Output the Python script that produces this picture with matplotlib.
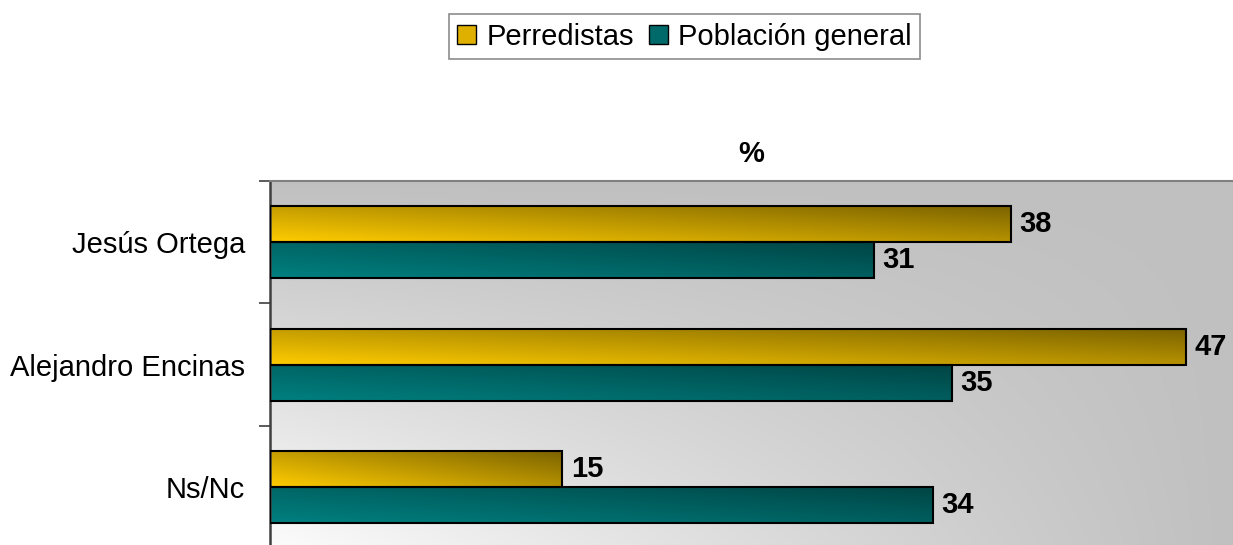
import numpy as np
import matplotlib
matplotlib.use('Agg')
import matplotlib.pyplot as plt
from matplotlib.patches import Patch
from matplotlib.colors import to_rgb

plt.rcParams['font.family'] = ['Liberation Sans', 'DejaVu Sans']

# Data
categories = ['Jesús Ortega', 'Alejandro Encinas', 'Ns/Nc']
perredistas = [38, 47, 15]
poblacion = [31, 35, 34]
series_names = ['Perredistas', 'Población general']

# gradient ends (light, dark) for each series
gold = ('#ffcc00', '#7a6200')
teal = ('#008080', '#004444')

fig = plt.figure(figsize=(12.33, 5.45), dpi=100)
ax = fig.add_axes([0.219, -0.0064, 0.781, 0.6743])

n = len(categories)
pos = np.arange(n)[::-1]  # first category on top
h = 0.294
fs = 21

# background: light in the bottom-left corner, gray towards top and right
gx, gy = np.meshgrid(np.linspace(0, 1, 300), np.linspace(0, 1, 200))
u = ((1 - gx) * (1 - gy)) ** 1.05
bg = (192 + 60 * u) / 255.0
ax.imshow(np.dstack([bg, bg, bg]), extent=[0, 1, 0, 1], transform=ax.transAxes,
          origin='lower', aspect='auto', zorder=0, interpolation='bilinear')

bars1 = ax.barh(pos + h / 2, perredistas, height=h, facecolor='none',
                edgecolor='black', linewidth=1.5, zorder=3)
bars2 = ax.barh(pos - h / 2, poblacion, height=h, facecolor='none',
                edgecolor='black', linewidth=1.5, zorder=3)

ax.set_xlim(0, 49.4)
ax.set_ylim(-0.5, n - 0.5)


def fill_gradient(bar, cols):
    x0, y0 = bar.get_x(), bar.get_y()
    w, hh = bar.get_width(), bar.get_height()
    xx, yy = np.meshgrid(np.linspace(0, 1, 200), np.linspace(0, 1, 40))
    t = (0.55 * xx + 0.45 * yy)[..., None]
    c0 = np.array(to_rgb(cols[0]))
    c1 = np.array(to_rgb(cols[1]))
    img = c0 * (1 - t) + c1 * t
    im = ax.imshow(img, extent=[x0, x0 + w, y0, y0 + hh], origin='lower',
                   aspect='auto', zorder=2, interpolation='bilinear')
    im.set_clip_path(bar)


for b in bars1:
    fill_gradient(b, gold)
for b in bars2:
    fill_gradient(b, teal)

# value labels
for bars, vals in ((bars1, perredistas), (bars2, poblacion)):
    for b, v in zip(bars, vals):
        ax.annotate(str(v), (b.get_width(), b.get_y() + b.get_height() / 2),
                    xytext=(6, 0), textcoords='offset points', ha='left',
                    va='center', fontsize=fs, fontweight='bold', zorder=4)

# ticks between categories, labels at centers
ax.set_yticks(np.arange(n + 1) - 0.5)
ax.set_yticklabels([])
ax.set_yticks(pos, minor=True)
ax.set_yticklabels(categories, minor=True, fontsize=fs)
ax.tick_params(axis='y', which='major', length=8, direction='out',
               color='#404040', width=1.2)
ax.tick_params(axis='y', which='minor', length=0, pad=18)
ax.set_xticks([])

for s in ('right', 'bottom'):
    ax.spines[s].set_visible(False)
ax.spines['left'].set_color('#404040')
ax.spines['left'].set_linewidth(1.8)
ax.spines['top'].set_color('#808080')
ax.spines['top'].set_linewidth(1.5)

ax.set_title('%', fontsize=fs, fontweight='bold', pad=14)

handles = [Patch(facecolor='#e0b000', edgecolor='black'),
           Patch(facecolor='#006a6a', edgecolor='black')]
leg = fig.legend(handles, series_names, loc='center', bbox_to_anchor=(0.555, 0.933),
                 ncol=2, fontsize=fs, frameon=True, fancybox=False,
                 handlelength=0.65, handleheight=0.65, handletextpad=0.35,
                 columnspacing=0.5, borderpad=0.3, borderaxespad=0)
leg.get_frame().set_edgecolor('#707070')
leg.get_frame().set_linewidth(1.2)

fig.savefig('out.png', dpi=100)
